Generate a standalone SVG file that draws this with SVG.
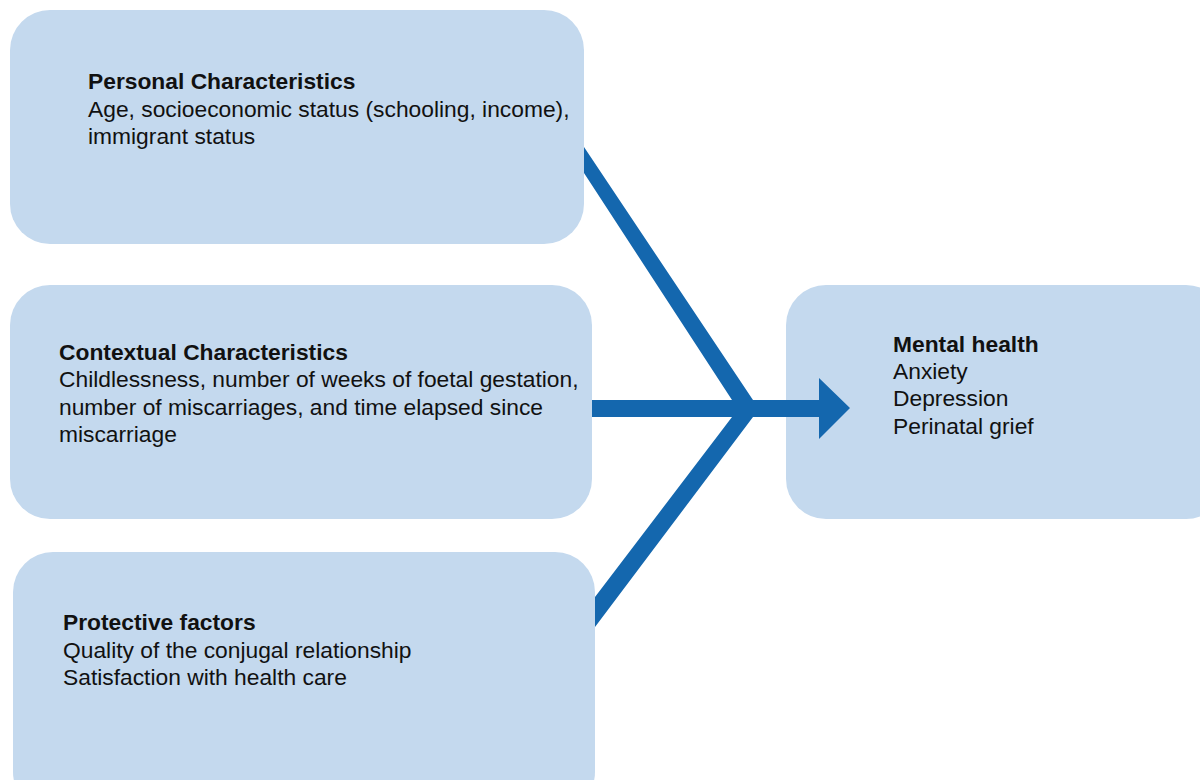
<svg xmlns="http://www.w3.org/2000/svg" width="1200" height="780" viewBox="0 0 1200 780">
<style>
.box{fill:#c4d9ee}
.t{font-family:"Liberation Sans",Arial,sans-serif;font-size:22.8px;fill:#111}
.b{font-weight:bold}
.c{fill:#1467ae}
</style>
<rect width="1200" height="780" fill="#fff"/>
<g id="personal">
<rect class="box" x="10" y="10" width="574" height="234" rx="40"/>
<text class="t b" x="88" y="89">Personal Characteristics</text>
<text class="t" x="88" y="117">Age, socioeconomic status (schooling, income),</text>
<text class="t" x="88" y="144">immigrant status</text>
</g>
<g id="contextual">
<rect class="box" x="10" y="285" width="582" height="234" rx="40"/>
<text class="t b" x="59" y="360">Contextual Characteristics</text>
<text class="t" x="59" y="387">Childlessness, number of weeks of foetal gestation,</text>
<text class="t" x="59" y="415">number of miscarriages, and time elapsed since</text>
<text class="t" x="59" y="442">miscarriage</text>
</g>
<g id="protective">
<rect class="box" x="13" y="552" width="582" height="260" rx="40"/>
<text class="t b" x="63" y="630">Protective factors</text>
<text class="t" x="63" y="658">Quality of the conjugal relationship</text>
<text class="t" x="63" y="685">Satisfaction with health care</text>
</g>
<g id="mental">
<rect class="box" x="786" y="285" width="440" height="234" rx="40"/>
<text class="t b" x="893" y="352">Mental health</text>
<text class="t" x="893" y="379">Anxiety</text>
<text class="t" x="893" y="406">Depression</text>
<text class="t" x="893" y="434">Perinatal grief</text>
</g>
<g id="connectors">
<polygon class="c" points="584,147 753,400 819,400 819,378 850,408 819,439 819,417 753,417 595,627 595,597 732,417 592,417 592,400 732,400 584,173"/>
</g>
</svg>
